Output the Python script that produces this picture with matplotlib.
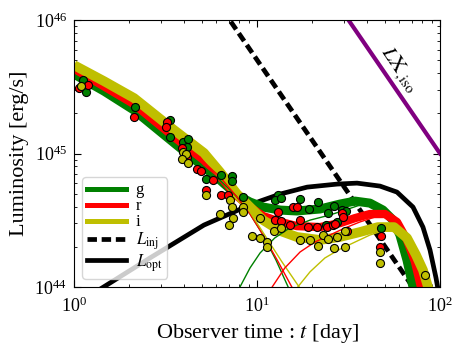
import matplotlib.pyplot as plt
from matplotlib.lines import Line2D

plt.rcParams['font.family'] = ['Liberation Serif', 'DejaVu Serif']
plt.rcParams['mathtext.fontset'] = 'stix'

# observed points (day, erg/s)
g_t = [1.12, 1.16, 2.15, 3.35, 3.35, 3.94, 4.20, 4.14, 5.26, 6.36, 7.30, 7.30, 8.38,
       13.0, 12.5, 13.5, 17.2, 21.5, 19.2, 24.4, 26.3, 27.4, 29.1, 30.6, 23.8, 47.6]
g_L = [3.54e45, 2.88e45, 2.23e45, 1.78e45, 1.33e45, 1.22e45, 1.28e45, 1.12e45, 6.43e44,
       6.89e44, 6.78e44, 6.21e44, 4.72e44, 4.88e44, 4.48e44, 4.64e44, 4.56e44, 4.33e44,
       3.84e44, 3.58e44, 4.04e44, 3.07e44, 3.77e44, 3.71e44, 2.91e44, 2.77e44]

r_t = [1.07, 1.19, 2.13, 3.22, 3.18, 3.89, 4.14, 4.70, 4.94, 5.75, 5.26, 6.36, 6.94,
       13.0, 12.5, 13.5, 15.7, 16.5, 15.1, 17.2, 19.0, 21.3, 24.1, 26.0, 29.1, 29.5,
       26.7, 31.0, 47.6, 47.0]
r_L = [3.09e45, 3.25e45, 1.87e45, 1.72e45, 1.58e45, 1.10e45, 9.40e44, 7.64e44, 7.39e44,
       6.32e44, 5.32e44, 4.88e44, 4.88e44, 3.64e44, 3.17e44, 3.12e44, 3.97e44, 3.97e44,
       2.91e44, 3.17e44, 2.81e44, 2.81e44, 2.81e44, 2.91e44, 3.58e44, 3.34e44, 2.96e44,
       2.63e44, 2.41e44, 1.99e44]

i_t = [1.09, 3.94, 4.09, 3.89, 4.20, 5.26, 7.12, 7.30, 8.38, 8.38, 6.28, 7.39, 7.03,
       10.4, 9.39, 10.4, 11.3, 11.3, 12.4, 13.5, 17.2, 19.5, 21.5, 22.9, 24.4, 27.4,
       26.3, 30.3, 30.3, 47.0, 47.0, 82.8]
i_L = [3.19e45, 1.02e45, 9.90e44, 9.08e44, 8.47e44, 4.88e44, 4.48e44, 3.97e44, 3.97e44,
       3.64e44, 3.52e44, 3.28e44, 2.91e44, 3.28e44, 2.41e44, 2.33e44, 2.17e44, 1.99e44,
       2.63e44, 2.77e44, 2.25e44, 2.25e44, 2.03e44, 2.45e44, 2.29e44, 2.37e44, 1.96e44,
       1.99e44, 2.63e44, 1.83e44, 1.51e44, 1.23e44]

# model light curves
g_mod_t = [1.0, 1.46, 2.13, 3.52, 5.13, 6.28, 7.78, 9.16, 10.8, 13.4, 16.5, 22.1, 28.4,
           34.3, 41.4, 48.8, 55.4, 60.4, 66.0, 71.2, 73.9]
g_mod_L = [3.93e45, 2.93e45, 2.11e45, 1.20e45, 7.91e44, 6.32e44, 4.88e44, 4.33e44, 3.97e44,
           3.77e44, 3.71e44, 3.84e44, 4.18e44, 4.40e44, 4.25e44, 3.77e44, 3.17e44, 2.45e44,
           1.59e44, 1.0e44, 0.84e44]
r_mod_t = [1.0, 1.46, 2.13, 3.52, 5.13, 6.28, 7.78, 9.16, 10.8, 13.4, 16.5, 22.1, 28.4,
           34.3, 41.4, 50.1, 58.2, 66.0, 73.0, 78.7, 81.8]
r_mod_L = [4.32e45, 3.18e45, 2.34e45, 1.33e45, 8.90e44, 6.75e44, 4.80e44, 3.97e44, 3.40e44,
           3.07e44, 2.86e44, 2.81e44, 3.01e44, 3.28e44, 3.52e44, 3.52e44, 3.07e44, 2.25e44,
           1.54e44, 1.0e44, 0.84e44]
i_mod_t = [1.0, 1.46, 2.13, 3.52, 5.13, 6.28, 7.78, 9.16, 10.8, 13.4, 16.5, 22.1, 28.4,
           36.5, 45.8, 56.1, 66.0, 73.9, 80.7, 86.0, 89.3]
i_mod_L = [4.59e45, 3.48e45, 2.60e45, 1.50e45, 1.01e45, 7.26e44, 4.97e44, 3.97e44, 3.17e44,
           2.63e44, 2.37e44, 2.25e44, 2.37e44, 2.58e44, 2.81e44, 2.81e44, 2.33e44, 1.74e44,
           1.34e44, 1.0e44, 0.84e44]

# thin components: early (falling) and late (rising)
g_fall_t = [5.13, 6.28, 7.78, 9.16, 10.8, 12.7, 14.8, 15.3]
g_fall_L = [7.91e44, 6.32e44, 4.72e44, 3.52e44, 2.45e44, 1.59e44, 1.0e44, 0.87e44]
r_fall_t = [5.13, 6.28, 7.78, 9.16, 10.8, 12.9, 15.5, 16.1]
r_fall_L = [8.62e44, 6.66e44, 4.72e44, 3.52e44, 2.45e44, 1.59e44, 1.0e44, 0.87e44]
i_fall_t = [5.13, 6.28, 7.78, 9.16, 11.1, 13.7, 17.0, 17.6]
i_fall_L = [1.01e45, 7.26e44, 4.97e44, 3.64e44, 2.41e44, 1.54e44, 1.0e44, 0.87e44]

g_rise_t = [7.87, 8.07, 9.16, 10.4, 12.5, 15.1, 19.5, 25.0, 30.3, 36.5, 41.4]
g_rise_L = [0.87e44, 1.0e44, 1.39e44, 1.80e44, 2.33e44, 2.77e44, 3.17e44, 3.46e44, 3.77e44,
            4.11e44, 4.25e44]
r_rise_t = [11.8, 12.1, 14.2, 17.2, 20.7, 25.0, 30.3, 36.5, 44.1, 50.1]
r_rise_L = [0.87e44, 1.0e44, 1.39e44, 1.83e44, 2.17e44, 2.45e44, 2.77e44, 3.07e44, 3.34e44,
            3.52e44]
i_rise_t = [16.3, 16.7, 19.5, 23.5, 28.4, 34.3, 41.4, 50.1, 56.1]
i_rise_L = [0.87e44, 1.0e44, 1.30e44, 1.65e44, 1.92e44, 2.17e44, 2.45e44, 2.67e44, 2.81e44]

opt_t = [1.40, 2.60, 5.13, 8.60, 10.4, 13.4, 18.8, 27.4, 35.2, 47.0, 58.2, 71.2, 80.7,
         88.2, 95.1, 98.8]
opt_L = [0.97e44, 1.65e44, 2.91e44, 3.97e44, 4.40e44, 4.97e44, 5.60e44, 5.90e44, 6.0e44,
         5.70e44, 5.14e44, 3.97e44, 2.81e44, 1.89e44, 1.17e44, 0.87e44]

inj_t = [6.5, 75]
inj_L = [1.19e46, 8.96e43]

xiso_t = [30, 100]
xiso_L = [1.11e46, 1.0e45]

fig = plt.figure(figsize=(4.64, 3.54), dpi=100)
ax = fig.add_axes([74/464, 67/354, 366/464, 267/354])

ax.loglog(xiso_t, xiso_L, color='purple', lw=3)
ax.loglog(inj_t, inj_L, color='k', lw=3.4, ls=(0, (2, 1)))
ax.loglog(opt_t, opt_L, color='k', lw=3.4, solid_joinstyle='round')

band = dict(solid_capstyle='butt', solid_joinstyle='round')
ax.loglog(g_mod_t, g_mod_L, color='g', lw=6.5, **band)
ax.loglog(r_mod_t, r_mod_L, color='r', lw=6, **band)
ax.loglog(i_mod_t, i_mod_L, color='y', lw=7, **band)

ax.loglog(g_fall_t, g_fall_L, color='g', lw=1)
ax.loglog(r_fall_t, r_fall_L, color='r', lw=1)
ax.loglog(i_fall_t, i_fall_L, color='y', lw=1)
ax.loglog(g_rise_t, g_rise_L, color='g', lw=1)
ax.loglog(r_rise_t, r_rise_L, color='r', lw=1)
ax.loglog(i_rise_t, i_rise_L, color='y', lw=1)

ax.plot(g_t, g_L, 'o', color='g', mec='k', mew=0.8, ms=5.8)
ax.plot(r_t, r_L, 'o', color='r', mec='k', mew=0.8, ms=5.8)
ax.plot(i_t, i_L, 'o', color='y', mec='k', mew=0.8, ms=5.8)

ax.text(59, 4.2e45, r'$L\mathrm{X}_{,\mathrm{iso}}$', rotation=-56,
        ha='center', va='center', fontsize=15)

ax.set_xlim(1, 100)
ax.set_ylim(1e44, 1e46)
ax.set_xlabel(r'Observer time : $t$ [day]', fontsize=16)
ax.set_ylabel('Luminosity [erg/s]', fontsize=16)
ax.tick_params(which='both', direction='in', top=True, right=True, labelsize=13)
ax.tick_params(axis='x', which='major', pad=7)
ax.tick_params(axis='y', which='major', pad=5)
ax.tick_params(which='major', length=5)
ax.tick_params(which='minor', length=2.5)

handles = [Line2D([], [], color='g', lw=3.6),
           Line2D([], [], color='r', lw=3.6),
           Line2D([], [], color='y', lw=3.6),
           Line2D([], [], color='k', lw=3.4, ls=(0, (2, 1))),
           Line2D([], [], color='k', lw=3.4)]
labels = ['g', 'r', 'i', r'$L_{\rm inj}$', r'$L_{\rm opt}$']
ax.legend(handles, labels, loc='lower left', fontsize=12, handlelength=2.3,
          labelspacing=0.0, borderpad=0.3, handletextpad=0.6, borderaxespad=0.5)

fig.savefig('out.png', dpi=100)
